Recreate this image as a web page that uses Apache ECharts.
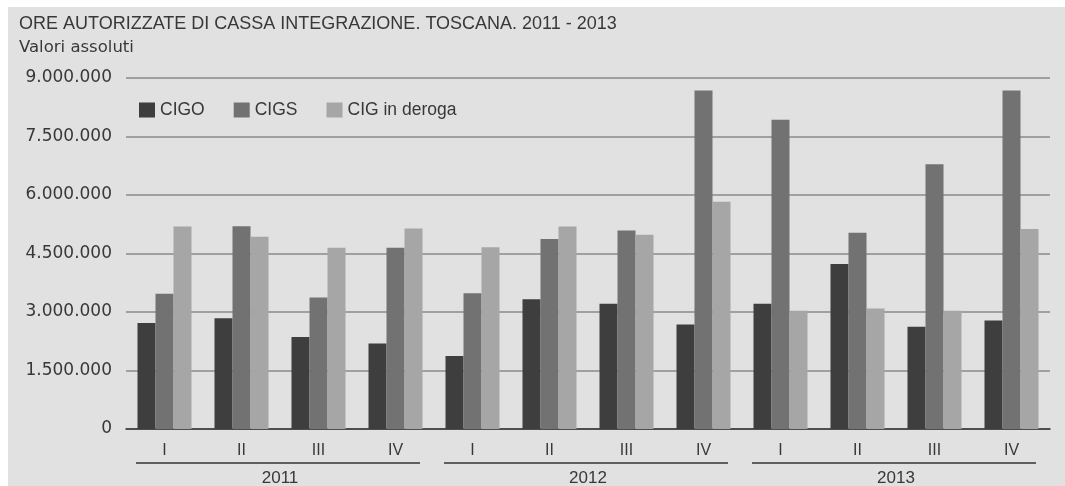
<!DOCTYPE html>
<html>
<head>
<meta charset="utf-8">
<script src="https://cdn.jsdelivr.net/npm/echarts@6/dist/echarts.min.js"></script>
<style>
  html, body { margin: 0; padding: 0; background: #fff; }
  #chart { position: absolute; left: 8px; top: 7px; width: 1057px; height: 479px; background: #e1e1e1; }
</style>
</head>
<body>
<div id="chart"></div>
<script>
// trimestri e anni
const quarters = ['I', 'II', 'III', 'IV', 'I', 'II', 'III', 'IV', 'I', 'II', 'III', 'IV'];
const years = ['2011', '2012', '2013'];

// ore autorizzate, valori
const cigo   = [2720000, 2840000, 2360000, 2190000, 1870000, 3330000, 3210000, 2680000, 3210000, 4230000, 2620000, 2780000];
const cigs   = [3470000, 5200000, 3370000, 4650000, 3480000, 4870000, 5090000, 8680000, 7930000, 5030000, 6790000, 8680000];
const deroga = [5190000, 4930000, 4650000, 5140000, 4660000, 5190000, 4980000, 5830000, 3030000, 3090000, 3030000, 5130000];

const yTicks = [0, 1500000, 3000000, 4500000, 6000000, 7500000, 9000000];

const txt = '#383838';
const fontMain = '"Liberation Sans", Arial, sans-serif';
const fontWide = '"DejaVu Sans", sans-serif';

function fmt(v) {
  return String(v).replace(/\B(?=(\d{3})+(?!\d))/g, '.');
}

const chart = echarts.init(document.getElementById('chart'));

chart.setOption({
  backgroundColor: '#e1e1e1',
  animation: false,
  title: {
    text: 'ORE AUTORIZZATE DI CASSA INTEGRAZIONE. TOSCANA. 2011 - 2013',
    subtext: 'Valori assoluti',
    left: 6,
    top: 3,
    itemGap: 6,
    textStyle: { color: txt, fontSize: 18, fontWeight: 'normal', fontFamily: fontMain },
    subtextStyle: { color: txt, fontSize: 16.5, fontFamily: fontWide }
  },
  legend: {
    left: 126,
    top: 89,
    itemWidth: 16,
    itemHeight: 15,
    itemGap: 29,
    icon: 'rect',
    textStyle: { color: txt, fontSize: 17.5, fontFamily: fontMain },
    data: ['CIGO', 'CIGS', 'CIG in deroga']
  },
  grid: { left: 118, right: 15, top: 71, bottom: 57, outerBoundsMode: 'none' },
  xAxis: [
    {
      type: 'category',
      data: quarters,
      axisLine: { lineStyle: { color: '#333', width: 1.5 } },
      axisTick: { length: 7, lineStyle: { color: '#333', width: 1.5 } },
      axisLabel: { color: txt, fontSize: 16, margin: 14, fontFamily: fontMain }
    },
    {
      type: 'category',
      data: quarters,
      position: 'bottom',
      axisLine: { show: false },
      axisTick: { inside: true, length: 7, lineStyle: { color: '#333', width: 1.5 } },
      axisLabel: { show: false }
    },
    {
      type: 'category',
      data: years,
      position: 'bottom',
      axisLine: { show: false },
      axisTick: { show: false },
      axisLabel: { color: txt, fontSize: 17, margin: 41, fontFamily: fontMain }
    }
  ],
  yAxis: {
    type: 'value',
    min: 0,
    max: 9000000,
    interval: 1500000,
    axisLine: { show: false },
    axisTick: { show: false },
    axisLabel: {
      color: txt, fontSize: 17, margin: 14, fontFamily: fontWide,
      formatter: function (v) { return yTicks.indexOf(v) >= 0 ? fmt(v) : ''; }
    },
    splitLine: { lineStyle: { color: '#8a8a8a', width: 1.5 } }
  },
  series: [
    { name: 'CIGO', type: 'bar', data: cigo, barWidth: 18, barGap: 0, itemStyle: { color: '#3e3e3e' } },
    { name: 'CIGS', type: 'bar', data: cigs, barWidth: 18, barGap: 0, itemStyle: { color: '#727272' } },
    { name: 'CIG in deroga', type: 'bar', data: deroga, barWidth: 18, barGap: 0, itemStyle: { color: '#a6a6a6' } }
  ]
});

// linee sotto gli anni
function yearLines() {
  const c0 = chart.convertToPixel({ xAxisIndex: 0 }, 0);
  const c1 = chart.convertToPixel({ xAxisIndex: 0 }, 1);
  const band = c1 - c0;
  const y0 = chart.convertToPixel({ yAxisIndex: 0 }, 0) + 34;
  const els = [];
  for (let i = 0; i < years.length; i++) {
    const first = chart.convertToPixel({ xAxisIndex: 0 }, i * 4);
    const last = chart.convertToPixel({ xAxisIndex: 0 }, i * 4 + 3);
    els.push({
      type: 'line',
      shape: { x1: first - band / 2 + 10, y1: y0, x2: last + band / 2 - 14, y2: y0 },
      style: { stroke: '#333', lineWidth: 1.5 }
    });
  }
  chart.setOption({ graphic: els });
}
yearLines();
</script>
</body>
</html>
